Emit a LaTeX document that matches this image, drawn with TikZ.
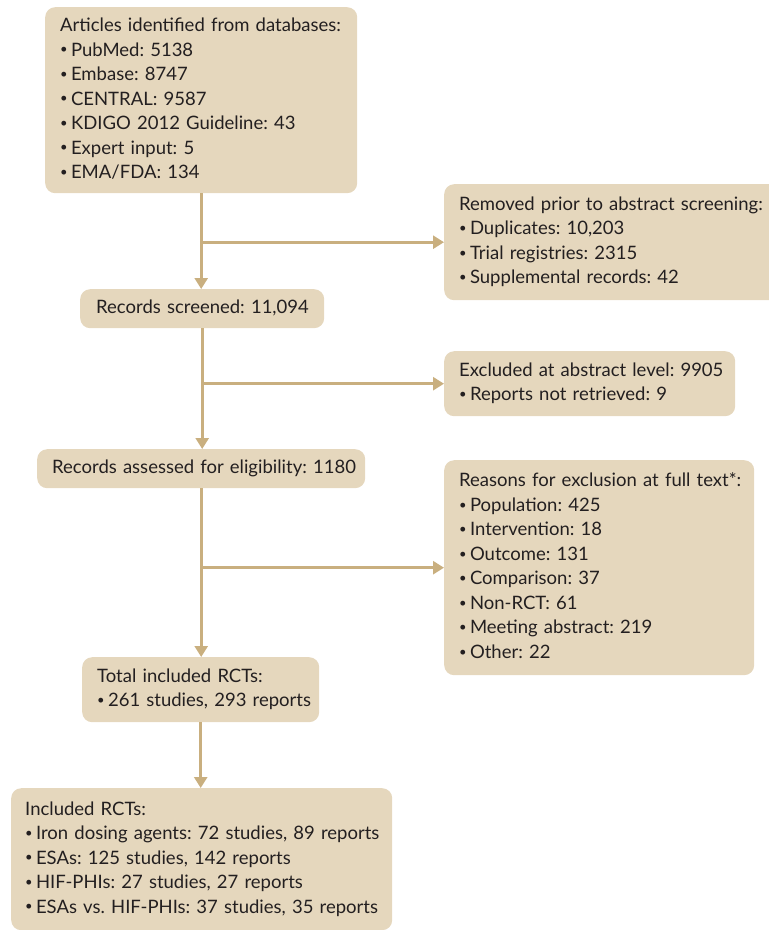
\documentclass[tikz,border=0pt]{standalone}
\usepackage{fontspec}
\setmainfont{Lato}
\usetikzlibrary{arrows.meta,positioning}
\definecolor{boxfill}{HTML}{E5D7BD}
\definecolor{linecol}{HTML}{C9AF7F}
\definecolor{txt}{HTML}{231F20}
\newcommand{\bl}{\raisebox{0.12em}{\scalebox{0.7}{\textbullet}}\hspace{0.18em}}
\newenvironment{lines}{\begin{tabular}{@{}l@{}}}{\end{tabular}}
\tikzset{
  box/.style={fill=boxfill, rounded corners=10pt, anchor=north west, align=left,
    inner xsep=15pt, inner ysep=0pt, text=txt,
    font=\fontsize{18.5}{24.5}\selectfont\frenchspacing},
  conn/.style={draw=linecol, line width=2.6pt, -{Triangle[width=13pt,length=11pt]}},
}
\begin{document}
\begin{tikzpicture}[x=1pt,y=-1pt]
\useasboundingbox (0,0) rectangle (769,930);
\node[box, minimum width=312pt, minimum height=186pt, text width=282pt] (b1) at (45,7)
 {\begin{lines}Articles identified from databases:\\\bl PubMed: 5138\\\bl Embase: 8747\\\bl CENTRAL: 9587\\\bl KDIGO 2012 Guideline: 43\\\bl Expert input: 5\\\bl EMA/FDA: 134\end{lines}};
\node[box, minimum width=345pt, minimum height=116pt, text width=315pt] (rem) at (444,184)
 {\begin{lines}Removed prior to abstract screening:\\\bl Duplicates: 10,203\\\bl Trial registries: 2315\\\bl Supplemental records: 42\end{lines}};
\node[box, minimum width=244pt, minimum height=39pt, text width=212pt, inner xsep=16pt] (b2) at (80,289)
 {\begin{lines}Records screened: 11,094\end{lines}};
\node[box, minimum width=291pt, minimum height=65pt, text width=261pt] (exc) at (444,351)
 {\begin{lines}Excluded at abstract level: 9905\\\bl Reports not retrieved: 9\end{lines}};
\node[box, minimum width=328pt, minimum height=39pt, text width=298pt] (b3) at (37,449)
 {\begin{lines}Records assessed for eligibility: 1180\end{lines}};
\node[box, minimum width=310pt, minimum height=215pt, text width=280pt] (rea) at (444,460)
 {\begin{lines}Reasons for exclusion at full text*:\\\bl Population: 425\\\bl Intervention: 18\\\bl Outcome: 131\\\bl Comparison: 37\\\bl Non-RCT: 61\\\bl Meeting abstract: 219\\\bl Other: 22\end{lines}};
\node[box, minimum width=237pt, minimum height=65pt, text width=207pt] (b4) at (82,657)
 {\begin{lines}Total included RCTs:\\\bl 261 studies, 293 reports\end{lines}};
\node[box, minimum width=381pt, minimum height=142pt, text width=353pt, inner xsep=14pt] (b5) at (11,788)
 {\begin{lines}Included RCTs:\\\bl Iron dosing agents: 72 studies, 89 reports\\\bl ESAs: 125 studies, 142 reports\\\bl HIF-PHIs: 27 studies, 27 reports\\\bl ESAs vs. HIF-PHIs: 37 studies, 35 reports\end{lines}};
\coordinate (j1) at (b1.south |- rem.west);
\coordinate (j2) at (b2.south |- exc.west);
\coordinate (j3) at (b3.south |- rea.west);
\draw[conn] (b1.south) -- (b1.south |- b2.north);
\draw[conn] (j1) -- (rem.west);
\draw[conn] (b2.south) -- (b2.south |- b3.north);
\draw[conn] (j2) -- (exc.west);
\draw[conn] (b3.south) -- (b3.south |- b4.north);
\draw[conn] (j3) -- (rea.west);
\draw[conn] (b4.south) -- (b4.south |- b5.north);
\end{tikzpicture}
\end{document}
